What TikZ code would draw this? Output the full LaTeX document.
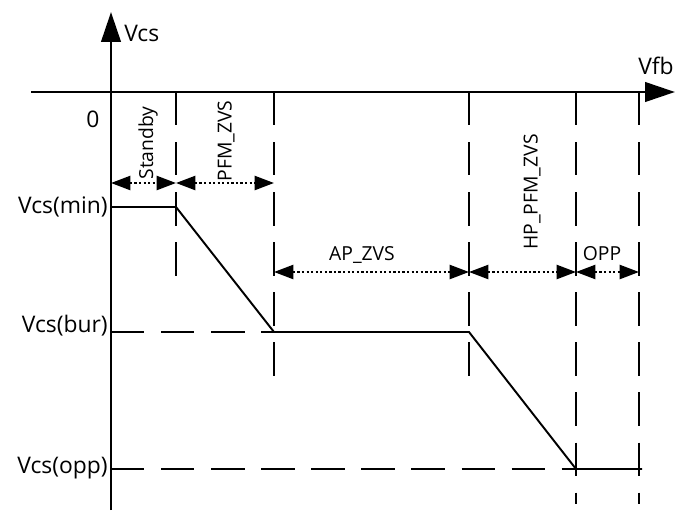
\documentclass[tikz,border=0pt]{standalone}
\usepackage{fontspec}
\setmainfont{Open Sans}
\usetikzlibrary{arrows.meta}

\begin{document}
\begin{tikzpicture}[x=0.02cm,y=-0.02cm,
    axis/.style={line width=1.7pt,-{Triangle[length=17pt,width=11pt]}},
    guide/.style={line width=1.1pt,dash pattern=on 19pt off 9.5pt},
    wave/.style={line width=1.1pt},
    dimline/.style={line width=1.2pt,dash pattern=on 1.3pt off 1.3pt,
        {Triangle[length=11pt,width=8pt]}-{Triangle[length=11pt,width=8pt]}},
    big/.style={font=\fontsize{13}{15}\selectfont,inner sep=0pt},
    small/.style={font=\fontsize{11}{13}\selectfont,inner sep=0pt}]
                \useasboundingbox (0,0) rectangle (676,514);
                % axes
                \draw[axis] (111,510) -- (111,12);
                \draw[axis] (31,92) -- (675,92);
                \node[big,anchor=west] (vcs) at (124,33) {Vcs};
                \node[big] (vfb) at (656,66) {Vfb};
                \node[big] (zero) at (93,119) {0};
                % levels
                \node[big,anchor=east] (vmin) at (108,207) {Vcs(min)};
                \node[big,anchor=east] (vbur) at (108,326) {Vcs(bur)};
                \node[big,anchor=east] (vopp) at (108,468) {Vcs(opp)};
                % region borders
                \draw[guide] (176,92) -- (176,276);
                \draw[guide] (274,92) -- (274,380);
                \draw[guide] (469,92) -- (469,380);
                \draw[guide] (576,92) -- (576,504);
                \draw[guide] (639,92) -- (639,504);
                \draw[guide] (111,332) -- (274,332);
                \draw[guide] (111,469) -- (576,469);
                % Vcs curve
                \draw[wave] (111,207) -- (176,207) -- (274,332) -- (469,332) -- (576,469) -- (642,469);
                % regions
                \draw[dimline] (111,183) -- (176,183);
                \draw[dimline] (176,183) -- (274,183);
                \draw[dimline] (274,272) -- (469,272);
                \draw[dimline] (469,272) -- (576,272);
                \draw[dimline] (576,272) -- (639,272);
                \node[small,rotate=90] (standby) at (148,143) {Standby};
                \node[small,rotate=90] (pfm) at (226,141) {PFM\_ZVS};
                \node[small] (ap) at (362,255) {AP\_ZVS};
                \node[small,rotate=90] (hppfm) at (532,192) {HP\_PFM\_ZVS};
                \node[small] (opp) at (602,254) {OPP};
            \end{tikzpicture}
\end{document}
